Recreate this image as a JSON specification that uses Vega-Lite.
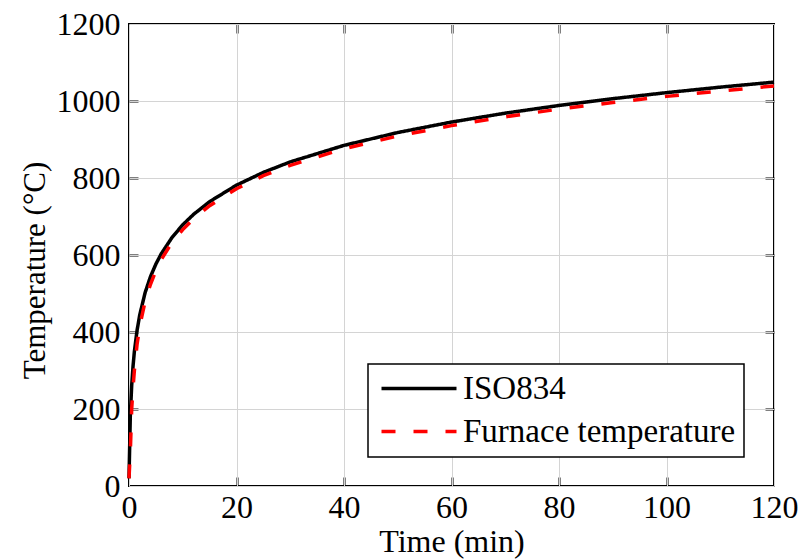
{
  "$schema": "https://vega.github.io/schema/vega-lite/v6.json",
  "width": 645,
  "height": 462,
  "autosize": {"type": "none"},
  "padding": {"left": 129, "top": 24, "right": 30, "bottom": 73},
  "background": "white",
  "config": {
    "view": {"stroke": "black", "strokeWidth": 2},
    "font": "Liberation Serif",
    "axis": {
      "labelFont": "Liberation Serif",
      "titleFont": "Liberation Serif",
      "labelFontSize": 32,
      "titleFontSize": 32,
      "labelColor": "black",
      "titleColor": "black",
      "titleFontWeight": "normal",
      "domain": false,
      "gridColor": "#d4d4d4",
      "gridWidth": 1
    }
  },
  "data": {
    "values": [
      {"t": 0, "T": 20, "series": "ISO834"},
      {"t": 0.25, "T": 184.6, "series": "ISO834"},
      {"t": 0.5, "T": 261.2, "series": "ISO834"},
      {"t": 0.75, "T": 311.0, "series": "ISO834"},
      {"t": 1, "T": 349.2, "series": "ISO834"},
      {"t": 1.5, "T": 404.3, "series": "ISO834"},
      {"t": 2, "T": 444.5, "series": "ISO834"},
      {"t": 3, "T": 502.3, "series": "ISO834"},
      {"t": 4, "T": 543.9, "series": "ISO834"},
      {"t": 5, "T": 576.4, "series": "ISO834"},
      {"t": 6, "T": 603.1, "series": "ISO834"},
      {"t": 8, "T": 645.5, "series": "ISO834"},
      {"t": 10, "T": 678.4, "series": "ISO834"},
      {"t": 12, "T": 705.4, "series": "ISO834"},
      {"t": 15, "T": 738.6, "series": "ISO834"},
      {"t": 20, "T": 781.4, "series": "ISO834"},
      {"t": 25, "T": 814.6, "series": "ISO834"},
      {"t": 30, "T": 841.8, "series": "ISO834"},
      {"t": 40, "T": 884.7, "series": "ISO834"},
      {"t": 50, "T": 918.1, "series": "ISO834"},
      {"t": 60, "T": 945.3, "series": "ISO834"},
      {"t": 70, "T": 968.4, "series": "ISO834"},
      {"t": 80, "T": 988.4, "series": "ISO834"},
      {"t": 90, "T": 1006.0, "series": "ISO834"},
      {"t": 100, "T": 1021.7, "series": "ISO834"},
      {"t": 110, "T": 1036.0, "series": "ISO834"},
      {"t": 120, "T": 1049.0, "series": "ISO834"},
      {"t": 0, "T": 20, "series": "Furnace temperature"},
      {"t": 0.25, "T": 90, "series": "Furnace temperature"},
      {"t": 0.5, "T": 200, "series": "Furnace temperature"},
      {"t": 0.75, "T": 255, "series": "Furnace temperature"},
      {"t": 1, "T": 300, "series": "Furnace temperature"},
      {"t": 1.5, "T": 368, "series": "Furnace temperature"},
      {"t": 2, "T": 415, "series": "Furnace temperature"},
      {"t": 3, "T": 480, "series": "Furnace temperature"},
      {"t": 4, "T": 524, "series": "Furnace temperature"},
      {"t": 5, "T": 559, "series": "Furnace temperature"},
      {"t": 6, "T": 588, "series": "Furnace temperature"},
      {"t": 8, "T": 633, "series": "Furnace temperature"},
      {"t": 10, "T": 666, "series": "Furnace temperature"},
      {"t": 12, "T": 694, "series": "Furnace temperature"},
      {"t": 15, "T": 728, "series": "Furnace temperature"},
      {"t": 20, "T": 772, "series": "Furnace temperature"},
      {"t": 25, "T": 806, "series": "Furnace temperature"},
      {"t": 30, "T": 833, "series": "Furnace temperature"},
      {"t": 40, "T": 876, "series": "Furnace temperature"},
      {"t": 50, "T": 909, "series": "Furnace temperature"},
      {"t": 60, "T": 936, "series": "Furnace temperature"},
      {"t": 70, "T": 959, "series": "Furnace temperature"},
      {"t": 80, "T": 979, "series": "Furnace temperature"},
      {"t": 90, "T": 996, "series": "Furnace temperature"},
      {"t": 100, "T": 1012, "series": "Furnace temperature"},
      {"t": 110, "T": 1026, "series": "Furnace temperature"},
      {"t": 120, "T": 1039, "series": "Furnace temperature"}
    ]
  },
  "layer": [
    {
      "mark": {"type": "line", "opacity": 0},
      "encoding": {
        "x": {
          "field": "t", "type": "quantitative",
          "scale": {"domain": [0, 120], "nice": false},
          "axis": {"orient": "top", "title": null, "labels": false, "ticks": false, "domain": false, "grid": true, "gridColor": "#000000", "gridWidth": 2, "gridOpacity": 1, "gridDash": [9, 444, 9, 1000], "values": [20, 40, 60, 80, 100]}
        },
        "y": {
          "field": "T", "type": "quantitative",
          "scale": {"domain": [0, 1200], "nice": false},
          "axis": {"orient": "right", "title": null, "labels": false, "ticks": false, "domain": false, "grid": true, "gridColor": "#000000", "gridWidth": 2, "gridOpacity": 1, "gridDash": [9, 627, 9, 1000], "values": [200, 400, 600, 800, 1000]}
        },
        "detail": {"field": "series", "type": "nominal"}
      }
    },
    {
      "mark": {"type": "line", "strokeWidth": 3.5},
      "encoding": {
        "x": {
          "field": "t", "type": "quantitative",
          "scale": {"domain": [0, 120], "nice": false},
          "axis": {"orient": "bottom", "title": "Time (min)", "values": [0, 20, 40, 60, 80, 100, 120], "format": "d", "grid": true, "ticks": false, "labelPadding": 6, "titlePadding": 3, "labelFlush": false}
        },
        "y": {
          "field": "T", "type": "quantitative",
          "scale": {"domain": [0, 1200], "nice": false},
          "axis": {"orient": "left", "title": "Temperature (°C)", "titleFontSize": 31, "values": [0, 200, 400, 600, 800, 1000, 1200], "format": "d", "grid": true, "ticks": false, "labelPadding": 9, "titlePadding": 5, "titleY": 246, "labelFlush": false}
        },
        "color": {
          "field": "series", "type": "nominal",
          "scale": {"domain": ["ISO834", "Furnace temperature"], "range": ["#000000", "#ff0000"]},
          "legend": {
            "title": null, "orient": "none", "legendX": 239, "legendY": 340,
            "strokeColor": "black", "fillColor": "white",
            "padding": 8, "rowPadding": 9,
            "labelFont": "Liberation Serif", "labelFontSize": 33, "labelColor": "black", "labelLimit": 0,
            "symbolType": "M -1.1 0 H 6.4", "symbolSize": 400, "symbolStrokeWidth": 3.5,
            "labelOffset": 54,
            "encode": {"legend": {"update": {"strokeWidth": {"value": 1.5}}}}
          }
        },
        "strokeDash": {
          "field": "series", "type": "nominal",
          "scale": {"domain": ["ISO834", "Furnace temperature"], "range": [[1, 0], [14, 18]]},
          "legend": {
            "title": null, "orient": "none", "legendX": 239, "legendY": 340,
            "strokeColor": "black", "fillColor": "white",
            "padding": 8, "rowPadding": 9,
            "labelFont": "Liberation Serif", "labelFontSize": 33, "labelColor": "black", "labelLimit": 0,
            "symbolType": "M -1.1 0 H 6.4", "symbolSize": 400, "symbolStrokeWidth": 3.5,
            "labelOffset": 54,
            "encode": {"legend": {"update": {"strokeWidth": {"value": 1.5}}}}
          }
        }
      }
    }
  ],
  "resolve": {"axis": {"x": "independent", "y": "independent"}}
}
